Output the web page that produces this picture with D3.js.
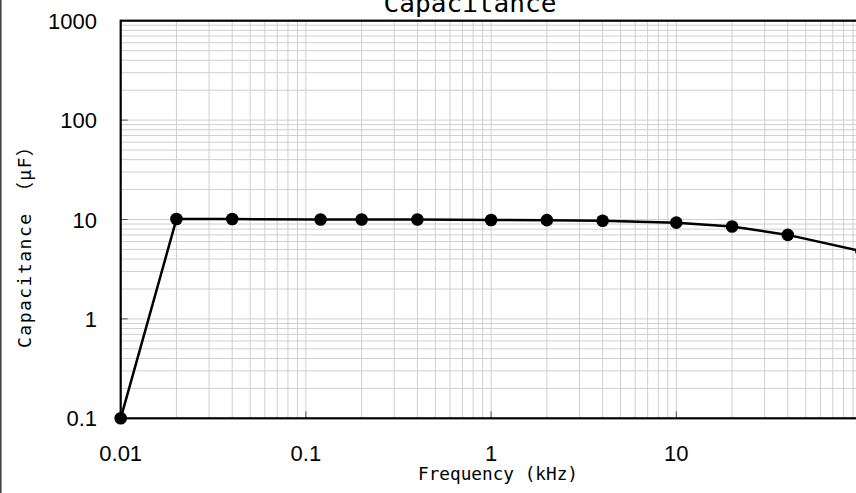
<!DOCTYPE html>
<html>
<head>
<meta charset="utf-8">
<script src="https://cdn.jsdelivr.net/npm/d3@7"></script>
<style>
  body { margin: 0; background: #fff; }
  svg { display: block; }
  text { font-family: "DejaVu Sans Mono", "Liberation Mono", "Noto Sans CJK JP", monospace; fill: #000; }
  text.num { font-family: "Liberation Sans", Arial, sans-serif; }
</style>
</head>
<body>
<svg id="chart" width="856" height="493"></svg>
<script>
// values
var frequency = [0.01, 0.02, 0.04, 0.12, 0.2, 0.4, 1, 2, 4, 10, 20, 40, 100];
var capacitance = [0.1, 10.1, 10.1, 10.0, 10.0, 10.0, 9.9, 9.85, 9.7, 9.3, 8.5, 7.0, 4.8];
var xTicks = [0.01, 0.1, 1, 10];
var xTickLabels = ["0.01", "0.1", "1", "10"];
var yTicks = [0.1, 1, 10, 100, 1000];
var yTickLabels = ["0.1", "1", "10", "100", "1000"];

var svg = d3.select("#chart");
var w = 856, h = 493;

var x = d3.scaleLog().domain([0.01, 100]).range([120.7, 861.5]);
var y = d3.scaleLog().domain([0.1, 1000]).range([418.3, 20.7]);

var points = frequency.map(function (f, i) {
    return { f: f, c: capacitance[i] };
});

// outer frame (only left edge is visible)
svg.append("line")
    .attr("x1", 0.8).attr("x2", 0.8)
    .attr("y1", 0).attr("y2", h)
    .attr("stroke", "#444")
    .attr("stroke-width", 1.6);

// minor + major grid lines, 1..9 per decade
function gridValues(lo, hi) {
    var vals = [];
    for (var d = lo; d < hi * 0.999; d *= 10) {
        for (var m = 1; m <= 9; m++) {
            var v = +(d * m).toPrecision(6);
            if (v > lo && v < hi) vals.push(v);
        }
    }
    return vals;
}

var grid = svg.append("g").attr("class", "grid");
grid.selectAll(".gx")
    .data(gridValues(0.01, 100))
    .enter().append("line")
    .attr("x1", function (d) { return x(d); })
    .attr("x2", function (d) { return x(d); })
    .attr("y1", y(1000)).attr("y2", y(0.1))
    .attr("stroke", "#cfcfcf")
    .attr("stroke-width", 1);

grid.selectAll(".gy")
    .data(gridValues(0.1, 1000))
    .enter().append("line")
    .attr("y1", function (d) { return y(d); })
    .attr("y2", function (d) { return y(d); })
    .attr("x1", x(0.01)).attr("x2", x(100))
    .attr("stroke", "#cfcfcf")
    .attr("stroke-width", 1);

// small inside ticks at decades
svg.selectAll(".ty")
    .data(yTicks.slice(1, -1))
    .enter().append("line")
    .attr("x1", x(0.01)).attr("x2", x(0.01) + 7)
    .attr("y1", function (d) { return y(d); })
    .attr("y2", function (d) { return y(d); })
    .attr("stroke", "#555").attr("stroke-width", 1);

svg.selectAll(".tx")
    .data(xTicks.slice(1))
    .enter().append("line")
    .attr("y1", y(0.1)).attr("y2", y(0.1) - 7)
    .attr("x1", function (d) { return x(d); })
    .attr("x2", function (d) { return x(d); })
    .attr("stroke", "#555").attr("stroke-width", 1);

// plot frame
svg.append("rect")
    .attr("x", x(0.01)).attr("y", y(1000))
    .attr("width", x(100) - x(0.01))
    .attr("height", y(0.1) - y(1000))
    .attr("fill", "none")
    .attr("stroke", "#000")
    .attr("stroke-width", 2.2);

// tick labels
svg.selectAll(".lx")
    .data(xTicks)
    .enter().append("text")
    .attr("class", "num")
    .attr("x", function (d) { return x(d); })
    .attr("y", 461)
    .attr("text-anchor", "middle")
    .attr("font-size", 22)
    .text(function (d, i) { return xTickLabels[i]; });

svg.selectAll(".ly")
    .data(yTicks)
    .enter().append("text")
    .attr("class", "num")
    .attr("x", 97)
    .attr("y", function (d) { return y(d) + 8; })
    .attr("text-anchor", "end")
    .attr("font-size", 22)
    .text(function (d, i) { return yTickLabels[i]; });

// data line and markers
var line = d3.line()
    .x(function (d) { return x(d.f); })
    .y(function (d) { return y(d.c); });

svg.append("path")
    .datum(points)
    .attr("d", line)
    .attr("fill", "none")
    .attr("stroke", "#000")
    .attr("stroke-width", 2.5);

svg.selectAll(".pt")
    .data(points)
    .enter().append("circle")
    .attr("cx", function (d) { return x(d.f); })
    .attr("cy", function (d) { return y(d.c); })
    .attr("r", 6.3)
    .attr("fill", "#000");

// titles
svg.append("text")
    .attr("x", 470).attr("y", 12)
    .attr("text-anchor", "middle")
    .attr("font-size", 25)
    .attr("textLength", 173)
    .attr("lengthAdjust", "spacingAndGlyphs")
    .text("Capacitance");

svg.append("text")
    .attr("x", 498).attr("y", 480)
    .attr("text-anchor", "middle")
    .attr("font-size", 17)
    .attr("textLength", 160)
    .attr("lengthAdjust", "spacingAndGlyphs")
    .text("Frequency (kHz)");

svg.append("text")
    .attr("transform", "translate(31,243) rotate(-90)")
    .attr("text-anchor", "middle")
    .attr("font-size", 18)
    .attr("textLength", 210)
    .attr("lengthAdjust", "spacing")
    .text("Capacitance （μF）");
</script>
</body>
</html>
